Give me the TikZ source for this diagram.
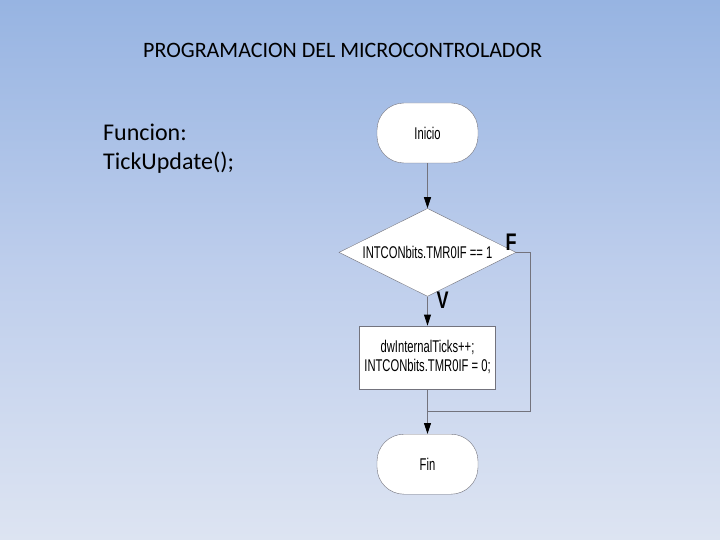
\documentclass[tikz,border=0pt]{standalone}
\usepackage{fontspec}
\setmainfont{Carlito}
\newfontfamily\flowfont[FakeStretch=0.66]{Liberation Sans}
\newfontfamily\lblfont[FakeStretch=0.75]{Liberation Sans Bold}
\usetikzlibrary{shapes.geometric,arrows.meta,positioning,calc}
\definecolor{bgtop}{RGB}{151,180,226}
\definecolor{bgmid}{RGB}{190,206,236}
\definecolor{bgbot}{RGB}{221,228,242}
\definecolor{edge}{RGB}{115,115,125}
\tikzset{
  term/.style ={draw=edge, fill=white, rounded corners=27pt, align=center,
                font=\flowfont\fontsize{17}{19}\selectfont,
                minimum width=101pt, minimum height=60pt, inner sep=0pt},
  dec/.style  ={draw=edge, fill=white, diamond, aspect=2, align=center,
                font=\flowfont\fontsize{17}{19}\selectfont,
                minimum width=177pt, minimum height=88pt, inner sep=0pt},
  blk/.style  ={draw=edge, fill=white, align=center,
                font=\flowfont\fontsize{17}{19}\selectfont,
                minimum width=136pt, minimum height=63pt, inner sep=0pt},
  flow/.style ={-{Triangle[length=11pt,width=7pt,color=black]}, draw=edge, line width=0.8pt},
  back/.style ={draw=edge, line width=0.8pt},
  lbl/.style  ={font=\lblfont\fontsize{24}{24}\selectfont, inner sep=0pt},
}
\begin{document}
\begin{tikzpicture}[x=1pt, y=-1pt, node distance=45pt]

% background
\useasboundingbox (0,0) rectangle (720,540);
\shade[top color=bgtop, bottom color=bgbot, middle color=bgmid] (0,0) rectangle (720,540);

% texts on the slide
\node[anchor=base west, inner sep=0pt, font=\fontsize{22}{24}\selectfont] (title) at (143,58)
  {PROGRAMACION DEL MICROCONTROLADOR};
\node[anchor=base west, inner sep=0pt, align=left, font=\fontsize{24}{28.5}\selectfont] (func) at (103,169.5)
  {Funcion:\\TickUpdate();};

% flowchart
\node[term] (ini) at (427.5,133) {Inicio};
\node[dec, below=45pt of ini] (cond) {INTCONbits.TMR0IF == 1};
\node[blk, below=29pt of cond] (tick) {dwInternalTicks++;\\INTCONbits.TMR0IF = 0;};
\node[term, below=45pt of tick] (fin) {Fin};
\coordinate (merge) at ($(tick.south)!0.5!(fin.north)$);

\draw[flow] (ini)--(cond);
\draw[flow] (cond)--(tick);
\draw[flow] (tick)--(fin);
\draw[back] (cond.east) -- ++(14,0) |- (merge);

\node[lbl, anchor=south] at ($(cond.east)+(-5,-2)$) {F};
\node[lbl, anchor=north west] at ($(cond.south)+(9,-5)$) {V};

\end{tikzpicture}
\end{document}
